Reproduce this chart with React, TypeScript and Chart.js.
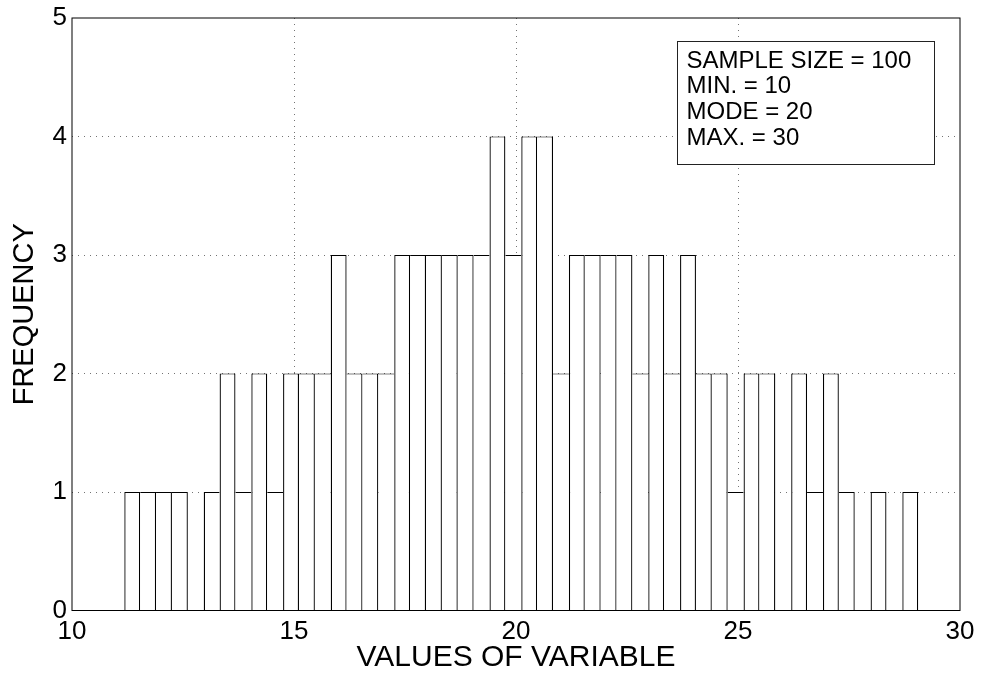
import { useEffect, useRef } from "react";
import { Chart, registerables } from "chart.js";

Chart.register(...registerables);

// Histogram bin centers (50 bins) and counts
const binCenters = [
  11.357, 11.715, 12.072, 12.43, 12.787, 13.145, 13.503, 13.86, 14.218, 14.576,
  14.933, 15.291, 15.648, 16.006, 16.364, 16.721, 17.079, 17.437, 17.794, 18.152,
  18.509, 18.867, 19.225, 19.582, 19.94, 20.298, 20.655, 21.013, 21.37, 21.728,
  22.086, 22.443, 22.801, 23.158, 23.516, 23.874, 24.231, 24.589, 24.947, 25.304,
  25.662, 26.019, 26.377, 26.734, 27.092, 27.45, 27.807, 28.165, 28.523, 28.88,
];
const frequencies = [
  1, 1, 1, 1, 0, 1, 2, 1, 2, 1,
  2, 2, 2, 3, 2, 2, 2, 3, 3, 3,
  3, 3, 3, 4, 3, 4, 4, 2, 3, 3,
  3, 3, 2, 3, 2, 3, 2, 2, 1, 2,
  2, 0, 2, 1, 2, 1, 0, 1, 0, 1,
];
const xTicks = [10, 15, 20, 25, 30];
const yTicks = [0, 1, 2, 3, 4, 5];
const infoLines = ["SAMPLE SIZE = 100", "MIN. = 10", "MODE = 20", "MAX. = 30"];
// info box corners in data units
const infoBox = { x0: 23.63, x1: 29.42, y0: 4.803, y1: 3.771 };

const FONT = '"Liberation Sans", Arial, Helvetica, sans-serif';

export default function App() {
  const ref = useRef<HTMLCanvasElement | null>(null);

  useEffect(() => {
    document.body.style.margin = "0";
    const canvas = ref.current;
    if (!canvas) return;

    const framePlugin = {
      id: "framePlugin",
      afterDraw(chart: any) {
        const { ctx, chartArea, scales } = chart;
        ctx.save();
        ctx.strokeStyle = "#000";
        ctx.lineWidth = 1;
        ctx.setLineDash([]);
        ctx.strokeRect(
          chartArea.left,
          chartArea.top,
          chartArea.right - chartArea.left,
          chartArea.bottom - chartArea.top
        );
        // info box
        const bx0 = Math.round(scales.x.getPixelForValue(infoBox.x0)) + 0.5;
        const bx1 = Math.round(scales.x.getPixelForValue(infoBox.x1)) + 0.5;
        const by0 = Math.round(scales.y.getPixelForValue(infoBox.y0)) + 0.5;
        const by1 = Math.round(scales.y.getPixelForValue(infoBox.y1)) + 0.5;
        ctx.fillStyle = "#fff";
        ctx.fillRect(bx0, by0, bx1 - bx0, by1 - by0);
        ctx.strokeStyle = "#222";
        ctx.strokeRect(bx0, by0, bx1 - bx0, by1 - by0);
        ctx.fillStyle = "#000";
        ctx.font = `24px ${FONT}`;
        ctx.textAlign = "left";
        ctx.textBaseline = "alphabetic";
        infoLines.forEach((t, i) => {
          ctx.fillText(t, bx0 + 9, by0 + 26 + i * 25.8);
        });
        ctx.restore();
      },
    };

    const gridColor = (c: any, lo: number, hi: number) =>
      c.tick && c.tick.value > lo && c.tick.value < hi ? "rgba(0,0,0,0.55)" : "rgba(0,0,0,0)";

    const n = frequencies.length;
    const chart = new Chart(canvas, {
      type: "bar",
      data: {
        datasets: [
          {
            data: binCenters.map((x, i) => ({ x, y: frequencies[i] })),
            backgroundColor: "#ffffff",
            borderColor: "#000000",
            borderSkipped: "start",
            inflateAmount: 0,
            barPercentage: 1.003,
            categoryPercentage: 1,
            borderWidth: (c: any) => {
              const i = c.dataIndex;
              const cur = frequencies[i] ?? 0;
              const prev = i > 0 ? frequencies[i - 1] : 0;
              const next = i < n - 1 ? frequencies[i + 1] : 0;
              return { top: 1, bottom: 0, left: prev < cur ? 1.3 : 0, right: next <= cur ? 1.3 : 0 };
            },
          } as any,
        ],
      },
      options: {
        animation: false,
        responsive: false,
        devicePixelRatio: 1,
        layout: { padding: { left: 0, right: 23, top: 15.5, bottom: 0 } },
        plugins: { legend: { display: false }, tooltip: { enabled: false } },
        scales: {
          x: {
            type: "linear",
            min: 10,
            max: 30,
            offset: false,
            afterBuildTicks: (s: any) => {
              s.ticks = xTicks.map((v) => ({ value: v }));
            },
            afterFit: (s: any) => {
              s.height = 64.5;
            },
            ticks: {
              font: { family: FONT, size: 26, lineHeight: 1 },
              color: "#000",
              padding: 8.5,
              maxRotation: 0,
              autoSkip: false,
            },
            grid: {
              offset: false,
              drawTicks: false,
              lineWidth: 1,
              color: (c: any) => gridColor(c, 10, 30),
            },
            border: { display: false, dash: [1, 5] },
            title: {
              display: true,
              text: "VALUES OF VARIABLE",
              color: "#000",
              font: { family: FONT, size: 30, lineHeight: 1 },
              padding: { top: 0, bottom: 2 },
            },
          },
          y: {
            type: "linear",
            min: 0,
            max: 5,
            afterBuildTicks: (s: any) => {
              s.ticks = yTicks.map((v) => ({ value: v }));
            },
            afterFit: (s: any) => {
              s.width = 72;
            },
            ticks: {
              font: { family: FONT, size: 26, lineHeight: 1 },
              color: "#000",
              padding: 5,
              autoSkip: false,
            },
            grid: {
              drawTicks: false,
              lineWidth: 1,
              color: (c: any) => gridColor(c, 0, 5),
            },
            border: { display: false, dash: [1, 5] },
            title: {
              display: true,
              text: "FREQUENCY",
              color: "#000",
              font: { family: FONT, size: 29, lineHeight: 1 },
              padding: { top: 10.5, bottom: 0 },
            },
          },
        },
      },
      plugins: [framePlugin],
    });

    return () => chart.destroy();
  }, []);

  return (
    <div style={{ width: 983, height: 675 }}>
      <canvas ref={ref} width={983} height={675} style={{ display: "block" }} />
    </div>
  );
}
